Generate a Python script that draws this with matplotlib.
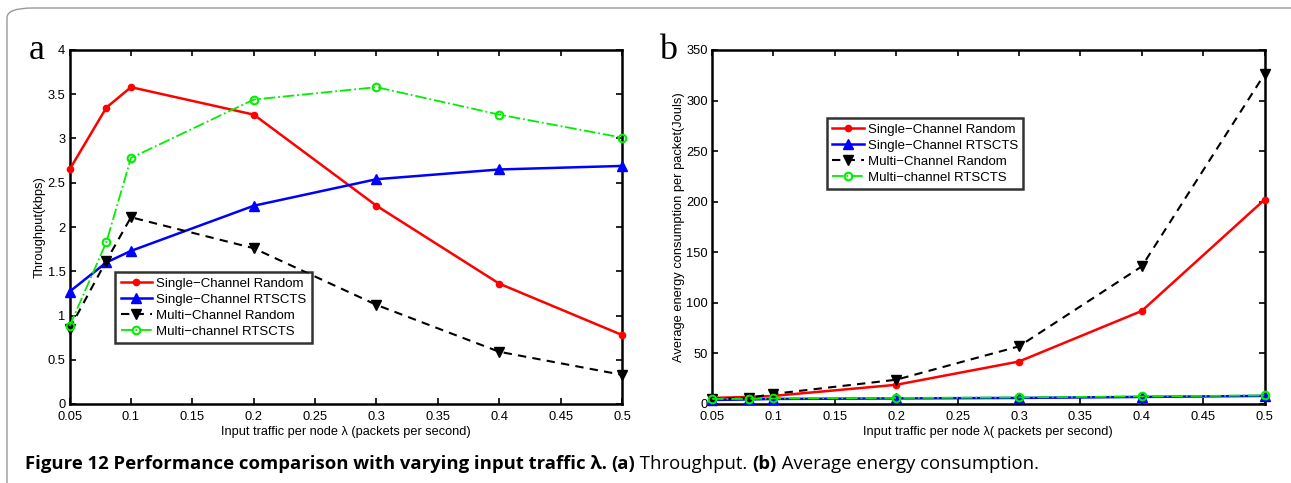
import matplotlib
matplotlib.use("Agg")
import matplotlib.pyplot as plt
from matplotlib.patches import FancyBboxPatch

x = [0.05, 0.08, 0.1, 0.2, 0.3, 0.4, 0.5]

thr_sc_random = [2.65, 3.35, 3.58, 3.27, 2.24, 1.36, 0.78]
thr_sc_rtscts = [1.27, 1.60, 1.73, 2.24, 2.54, 2.65, 2.69]
thr_mc_random = [0.85, 1.62, 2.11, 1.76, 1.12, 0.59, 0.33]
thr_mc_rtscts = [0.88, 1.83, 2.78, 3.44, 3.58, 3.27, 3.01]

en_sc_random = [6, 7, 8, 19, 42, 92, 202]
en_sc_rtscts = [4, 4.5, 5, 5.5, 6, 7, 8]
en_mc_random = [5, 6, 10, 24, 57, 136, 326]
en_mc_rtscts = [5, 5, 5.5, 6, 6.5, 7.5, 8.5]

labels = ["Single\u2212Channel Random", "Single\u2212Channel RTSCTS",
          "Multi\u2212Channel Random", "Multi\u2212channel RTSCTS"]

xticks = [0.05, 0.1, 0.15, 0.2, 0.25, 0.3, 0.35, 0.4, 0.45, 0.5]
xticklabels = ["0.05", "0.1", "0.15", "0.2", "0.25", "0.3", "0.35", "0.4", "0.45", "0.5"]

plt.rcParams['font.family'] = ['Liberation Sans', 'DejaVu Sans']

W, H = 1291, 483
fig = plt.figure(figsize=(W / 100, H / 100), dpi=100)

frame = FancyBboxPatch((7 / W, -0.05), 1.2, (H - 8) / H + 0.05,
                       boxstyle="round,pad=0,rounding_size=0.02",
                       transform=fig.transFigure, facecolor='none',
                       edgecolor='#9a9a9a', linewidth=1.0, zorder=-1)
fig.patches.append(frame)

L1, R1 = 69.6, 622.0
L2, R2 = 712.1, 1264.5
TOP, BOT = 50, 404
ax1 = fig.add_axes([L1 / W, 1 - BOT / H, (R1 - L1) / W, (BOT - TOP) / H])
ax2 = fig.add_axes([L2 / W, 1 - BOT / H, (R2 - L2) / W, (BOT - TOP) / H])


def style(ax, series, ylim, yticks, yticklabels, ylabel, xlabel, legend_loc,
          ylab_x):
    s1, s2, s3, s4 = series
    ax.plot(x, s1, color='#ff0000', lw=1.8, marker='o', ms=4.5, label=labels[0],
            clip_on=False, zorder=3)
    ax.plot(x, s2, color='#0000ff', lw=1.8, marker='^', ms=7, label=labels[1],
            clip_on=False, zorder=3)
    ax.plot(x, s3, color='black', lw=1.5, ls=(0, (4, 3)), marker='v', ms=7,
            label=labels[2], clip_on=False, zorder=3)
    ax.plot(x, s4, color='#00ee00', lw=1.3, ls='-.', marker='o', ms=5.5,
            mfc='none', mew=1.5, label=labels[3], clip_on=False, zorder=3)
    ax.set_xlim(0.05, 0.5)
    ax.set_ylim(*ylim)
    ax.set_xticks(xticks)
    ax.set_xticklabels(xticklabels)
    ax.set_yticks(yticks)
    ax.set_yticklabels(yticklabels)
    ax.tick_params(direction='in', top=True, right=True, labelsize=9.3,
                   length=4, width=1.2)
    ax.tick_params(axis='x', pad=5)
    ax.tick_params(axis='y', pad=3)
    for sp in ax.spines.values():
        sp.set_linewidth(1.8)
    ax.set_xlabel(xlabel, fontsize=9.2, labelpad=2)
    ax.set_ylabel(ylabel, fontsize=9.3)
    ax.yaxis.set_label_coords(ylab_x, 0.5)
    leg = ax.legend(loc='upper left', bbox_to_anchor=legend_loc,
                    fontsize=9.5, frameon=True, fancybox=False,
                    edgecolor='black', handlelength=2.4, handletextpad=0.3,
                    borderpad=0.4, labelspacing=0.3, borderaxespad=0)
    leg.get_frame().set_linewidth(1.8)
    leg.set_zorder(5)


style(ax1, [thr_sc_random, thr_sc_rtscts, thr_mc_random, thr_mc_rtscts],
      (0, 4), [0, 0.5, 1, 1.5, 2, 2.5, 3, 3.5, 4],
      ["0", "0.5", "1", "1.5", "2", "2.5", "3", "3.5", "4"],
      "Throughput(kbps)",
      "Input traffic per node \u03bb (packets per second)",
      ((115.3 - L1) / (R1 - L1), 1 - (272 - TOP) / (BOT - TOP)),
      (46 - L1) / (R1 - L1))

style(ax2, [en_sc_random, en_sc_rtscts, en_mc_random, en_mc_rtscts],
      (0, 350), [0, 50, 100, 150, 200, 250, 300, 350],
      ["0", "50", "100", "150", "200", "250", "300", "350"],
      "Average energy consumption per packet(Jouls)",
      "Input traffic per node \u03bb( packets per second)",
      ((827 - L2) / (R2 - L2), 1 - (118 - TOP) / (BOT - TOP)),
      (685 - L2) / (R2 - L2))

fig.text(29 / W, 1 - 59 / H, "a", fontsize=26, family='Liberation Serif',
         ha='left', va='baseline')
fig.text(659 / W, 1 - 59 / H, "b", fontsize=26, family='Liberation Serif',
         ha='left', va='baseline')

renderer = fig.canvas.get_renderer()
parts = [("Figure 12 Performance comparison with varying input traffic \u03bb. ", 'bold'),
         ("(a)", 'bold'), (" Throughput. ", 'normal'), ("(b)", 'bold'),
         (" Average energy consumption.", 'normal')]
xpos = 25
for txt, wt in parts:
    t = fig.text(xpos / W, 1 - 469 / H, txt, fontsize=13.3,
                 family=['Open Sans', 'DejaVu Sans'], weight=wt,
                 ha='left', va='baseline')
    bb = t.get_window_extent(renderer=renderer)
    xpos += bb.width

fig.savefig("out.png", dpi=100)
